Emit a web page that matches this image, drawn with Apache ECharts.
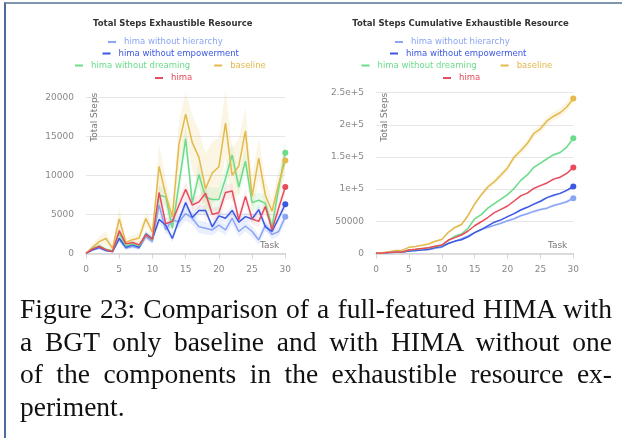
<!DOCTYPE html>
<html>
<head>
<meta charset="utf-8">
<script src="https://cdn.jsdelivr.net/npm/echarts@6/dist/echarts.min.js"></script>
<style>
  html, body { margin: 0; padding: 0; background: #fff; }
  body { width: 625px; height: 438px; position: relative; overflow: hidden; }
  #chart { position: absolute; left: 0; top: 0; width: 625px; height: 290px; }
  #frame { position: absolute; left: 4px; top: 2px; width: 616px; height: 450px;
           border-top: 2px solid #7f95b0; border-left: 2px solid #4a6b9e; pointer-events: none; }
  #cap { position: absolute; left: 20px; top: 293px; width: 592px;
         font-family: 'Liberation Serif', serif; font-size: 27.5px; line-height: 32.7px; color: #111; }
  #cap .j { text-align: justify; text-align-last: justify; white-space: nowrap; }
</style>
</head>
<body>
<div id="chart"></div>
<div id="frame"></div>
<div id="cap">
  <div class="j">Figure 23: Comparison of a full-featured HIMA with</div>
  <div class="j">a BGT only baseline and with HIMA without one</div>
  <div class="j">of the components in the exhaustible resource ex-</div>
  <div>periment.</div>
</div>
<script>
// ---------------- data ----------------
const tasks = [0,1,2,3,4,5,6,7,8,9,10,11,12,13,14,15,16,17,18,19,20,21,22,23,24,25,26,27,28,29,30];
const seriesNames = ['hima without hierarchy','hima without empowerment','hima without dreaming','baseline','hima'];

// Left chart: total steps per task
const hierarchySteps   = [0,450,660,360,190,1800,660,870,660,2140,1500,6200,3000,4300,4000,5100,4500,3400,3200,3000,3600,3000,4500,2800,3500,2800,1700,3600,2400,2800,4700];
const empowermentSteps = [0,450,780,360,230,1930,780,1080,780,2480,1840,4350,3600,1900,4300,6500,4600,5500,5500,3400,4800,4500,5500,4000,4700,4400,5600,3400,2800,4500,6300];
const dreamingSteps    = [0,660,950,530,320,2560,950,1210,950,2350,1720,7440,7240,3200,8900,14700,6500,10100,7200,6900,6900,9600,12600,8500,11800,6500,6800,6400,3400,8300,12900];
const baselineSteps    = [0,800,1500,1900,650,4400,1400,1750,1950,4450,2700,11150,7500,4700,14000,17850,14200,12300,8300,10300,11100,16700,10000,11200,15700,7300,12200,7450,5400,8900,11900];
const himaSteps        = [0,570,870,450,230,2900,1210,1380,1080,2350,1800,7800,3800,4100,6200,8200,6200,6600,7700,5000,5200,7800,8000,4300,7300,4400,4100,6000,3000,5800,8500];

// Left chart: half-width of the shaded bands
const hierarchySpread   = [0,150,200,150,100,400,250,250,250,400,300,900,700,700,800,900,800,800,800,700,700,700,800,700,700,700,600,700,600,600,800];
const empowermentSpread = [0,150,200,150,100,400,250,250,250,400,300,600,600,500,600,700,600,600,600,500,600,600,600,500,600,500,600,500,500,600,700];
const dreamingSpread    = [0,200,300,200,150,500,300,300,300,500,400,1200,1200,800,1500,1800,1200,1500,1500,1500,1500,1500,1500,1200,1500,1000,1000,1000,800,1300,1700];
const baselineSpread    = [0,400,700,900,400,1500,500,600,700,900,800,2800,2000,1500,3000,2800,3500,3500,4500,4000,3800,4300,3500,3500,3000,2500,2500,2000,1500,1800,1800];
const himaSpread        = [0,200,300,200,100,500,300,300,300,400,400,1000,800,700,900,1000,800,900,900,800,800,1000,1000,800,900,700,700,800,600,800,1000];

// Right chart: cumulative total steps
const hierarchyCum   = [0,450,1110,1470,1660,3460,4120,4990,5650,7790,9290,15500,18600,22900,27000,32200,36800,40300,43600,46800,50600,53800,58500,61500,65200,68300,70300,74300,77000,80200,85700];
const empowermentCum = [0,450,1230,1590,1820,3750,4530,5610,6390,8870,10710,15200,19000,21100,25600,32200,37000,42700,48400,52000,57000,61700,67400,71600,76500,81000,86700,90300,93300,97900,104000];
const dreamingCum    = [0,660,1600,2100,2500,5000,6000,7200,8100,10500,12200,19600,26900,30100,39000,53700,60200,70300,77500,84400,91300,100900,113500,122000,133800,140300,147100,153500,156900,165200,179000];
const baselineCum    = [0,800,2300,4200,4900,9300,10700,12400,14400,18800,21500,32700,40200,44900,58900,76700,90900,103200,111500,121800,132900,149600,159600,170800,186500,193800,206000,213400,218800,227800,240800];
const himaCum        = [0,570,1440,1890,2120,5020,6230,7610,8690,11040,12840,20600,24400,28500,34700,42900,49100,55700,63400,68400,73600,81400,89400,93700,101000,105400,109500,115500,118500,124300,133700];

// Right chart: half-width of the shaded bands
const hierarchyCumSpread   = [0,100,150,200,200,300,300,400,400,500,500,700,800,900,1000,1100,1200,1300,1400,1500,1600,1700,1800,1900,2000,2000,2100,2200,2200,2300,2400];
const empowermentCumSpread = [0,100,150,200,200,300,300,400,400,500,500,700,800,900,1000,1100,1200,1300,1400,1500,1600,1700,1800,1900,2000,2000,2100,2200,2200,2300,2400];
const dreamingCumSpread    = [0,100,200,200,300,400,400,500,500,600,600,800,900,1000,1100,1300,1400,1500,1600,1700,1800,1900,2000,2100,2200,2300,2400,2400,2500,2600,2700];
const baselineCumSpread    = [0,200,400,500,600,900,1000,1100,1200,1400,1500,2000,2300,2500,3000,3500,4000,4200,4500,4800,5000,5500,5800,6000,6300,6500,6700,6800,7000,7200,7500];
const himaCumSpread        = [0,100,150,200,200,300,300,400,400,500,500,700,800,900,1000,1100,1200,1300,1400,1500,1600,1700,1800,1800,1900,2000,2000,2100,2200,2200,2300];

const leftYTicks  = [0,5000,10000,15000,20000];
const rightYTicks = [0,50000,100000,150000,200000,250000];
const xTickStep   = 5;

// ---------------- styles ----------------
const lineColors = ['#8aa5f4','#3b58e2','#6bdc89','#e4b94b','#e84c5c'];
const bandColors = ['rgba(138,165,244,0.18)','rgba(59,88,226,0.10)','rgba(107,220,137,0.14)','rgba(228,185,75,0.15)','rgba(232,76,92,0.10)'];
const FONT = 'DejaVu Sans';

const chart = echarts.init(document.getElementById('chart'), null, {renderer: 'canvas'});

function buildSeries(g, valuesList, spreadList) {
  const out = [];
  valuesList.forEach((vals, i) => {
    const spr = spreadList[i];
    const stackId = 'band_' + g + '_' + i;
    out.push({
      type: 'line', name: '__lo' + g + i, xAxisIndex: g, yAxisIndex: g, stack: stackId,
      data: vals.map((v, k) => v - spr[k]),
      symbol: 'none', lineStyle: {opacity: 0}, silent: true, z: 1, clip: false
    });
    out.push({
      type: 'line', name: '__hi' + g + i, xAxisIndex: g, yAxisIndex: g, stack: stackId,
      data: spr.map(s => 2 * s),
      symbol: 'none', lineStyle: {opacity: 0}, areaStyle: {color: bandColors[i], opacity: 1},
      silent: true, z: 1, clip: false
    });
  });
  valuesList.forEach((vals, i) => {
    out.push({
      type: 'line', name: seriesNames[i], xAxisIndex: g, yAxisIndex: g,
      data: vals.slice(),
      color: lineColors[i],
      lineStyle: {width: 1.5, color: lineColors[i]},
      itemStyle: {color: lineColors[i]},
      symbol: 'circle', showSymbol: true, showAllSymbol: true,
      symbolSize: (v, p) => (p.dataIndex === tasks.length - 1 ? 6 : 0),
      z: 3, clip: false, emphasis: {disabled: true}
    });
  });
  return out;
}

const rows = [[0],[1],[2,3],[4]];
const rowTops = [37.5, 49, 61, 73.5];
const leftRowX  = [108, 102.5, 75, 155];
const rightRowX = [395, 390, 361.5, 443];

function buildLegends(rowX) {
  return rows.map((r, ri) => ({
    left: rowX[ri], top: rowTops[ri], orient: 'horizontal', padding: 0,
    itemWidth: 8, itemHeight: 2, itemGap: 24, icon: 'rect',
    selectedMode: false,
    textStyle: {fontFamily: FONT, fontSize: 8.5, padding: [0, 0, 0, 3]},
    data: r.map(i => ({name: seriesNames[i], textStyle: {color: lineColors[i]}, itemStyle: {color: lineColors[i]}}))
  }));
}

function xAxisCfg(g) {
  return {
    type: 'category', gridIndex: g, data: tasks.map(String), boundaryGap: false,
    name: 'Task', nameLocation: 'end', nameGap: -6, nameMoveOverlap: false,
    nameTextStyle: {fontFamily: FONT, fontSize: 9, color: '#777', align: 'right', verticalAlign: 'bottom', padding: [0, 0, 3, 0]},
    axisLine: {show: true, lineStyle: {color: '#d4d4d4', width: 1.5}},
    axisTick: {show: true, length: 5, interval: xTickStep - 1, lineStyle: {color: '#d4d4d4'}},
    axisLabel: {fontFamily: FONT, fontSize: 9, color: '#888', margin: 12, interval: xTickStep - 1},
    splitLine: {show: false}
  };
}

function yAxisCfg(g, ticks, max, fmt, showMax) {
  return {
    type: 'value', gridIndex: g, min: ticks[0], max: max, interval: ticks[1] - ticks[0],
    name: 'Total Steps', nameLocation: 'end', nameGap: 0, nameRotate: 90, nameMoveOverlap: false,
    nameTextStyle: {fontFamily: FONT, fontSize: 9, color: '#777', align: 'right', verticalAlign: 'top', padding: [4, 0, 0, 0]},
    axisLine: {show: false}, axisTick: {show: false},
    axisLabel: {fontFamily: FONT, fontSize: 9, color: '#888', margin: 12, showMaxLabel: showMax, formatter: fmt},
    splitLine: {show: true, showMaxLine: showMax, lineStyle: {color: '#e6e6e6', width: 1}}
  };
}

const rightFmt = v => (v === 0 ? '0' : v < 100000 ? String(v) : (v / 100000) + 'e+5');

const option = {
  animation: false,
  backgroundColor: 'transparent',
  title: [
    {text: 'Total Steps Exhaustible Resource', left: 172.8, top: 19, textAlign: 'center', padding: 0,
     textStyle: {fontFamily: FONT, fontSize: 8.5, fontWeight: 'bold', color: '#333'}},
    {text: 'Total Steps Cumulative Exhaustible Resource', left: 460.5, top: 19, textAlign: 'center', padding: 0,
     textStyle: {fontFamily: FONT, fontSize: 8.5, fontWeight: 'bold', color: '#333'}}
  ],
  legend: buildLegends(leftRowX).concat(buildLegends(rightRowX)),
  grid: [
    {left: 86, right: 339.7, top: 92.7, bottom: 36.7, outerBoundsMode: 'none'},
    {left: 376, right: 51.7, top: 92.7, bottom: 36.7, outerBoundsMode: 'none'}
  ],
  xAxis: [xAxisCfg(0), xAxisCfg(1)],
  yAxis: [
    yAxisCfg(0, leftYTicks, 20600, v => String(v), false),
    yAxisCfg(1, rightYTicks, rightYTicks[rightYTicks.length - 1], rightFmt, true)
  ],
  series: buildSeries(0,
      [hierarchySteps, empowermentSteps, dreamingSteps, baselineSteps, himaSteps],
      [hierarchySpread, empowermentSpread, dreamingSpread, baselineSpread, himaSpread])
    .concat(buildSeries(1,
      [hierarchyCum, empowermentCum, dreamingCum, baselineCum, himaCum],
      [hierarchyCumSpread, empowermentCumSpread, dreamingCumSpread, baselineCumSpread, himaCumSpread]))
};
chart.setOption(option);
</script>
</body>
</html>
